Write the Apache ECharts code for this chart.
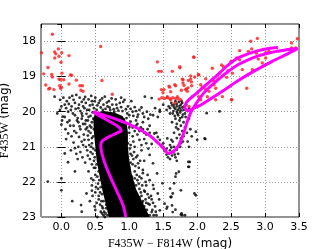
<!DOCTYPE html>
<html><head><meta charset="utf-8">
<script src="https://cdn.jsdelivr.net/npm/echarts@6/dist/echarts.min.js"></script>
<style>html,body{margin:0;padding:0;background:#fff}#c{width:332px;height:249px}</style>
</head><body><div id="c"></div>
<script>
// Axis ranges / ticks
const xRange = [-0.3, 3.5];
const yRange = [17.5, 23];
const xTickStep = 0.5;
const yTickStep = 1;

// Isochrone (F435W-F814W, F435W)
const isoColor = [0.95,0.91,0.85,0.79,0.72,0.66,0.62,0.59,0.58,0.60,0.66,0.75,0.82,0.88,0.86,0.75,0.62,0.52,0.47,
  0.55,0.70,0.86,1.00,1.15,1.30,1.42,1.52,1.57,1.62,1.68,1.73,1.78,1.82,1.86,1.90,1.95,2.03,2.11,2.30,2.45,2.60,2.75,2.90,3.09,3.30,3.48,
  3.30,3.10,2.85,2.60,2.40,2.20,2.06,1.95,1.86,1.82,1.84,1.90,2.00,2.11,2.30,2.45,2.60,2.75,2.90,3.05,3.19];
const isoMag = [23.0,22.67,22.4,22.15,21.85,21.57,21.35,21.12,20.95,20.84,20.76,20.67,20.6,20.55,20.46,20.32,20.18,20.07,20.0,
  20.05,20.14,20.25,20.36,20.5,20.68,20.88,21.08,21.18,21.17,21.08,20.95,20.73,20.5,20.25,20.05,19.87,19.64,19.44,19.1,18.86,18.66,18.52,18.41,18.31,18.24,18.2,
  18.38,18.57,18.83,19.12,19.38,19.63,19.8,19.9,19.97,19.88,19.74,19.62,19.46,19.27,18.95,18.68,18.47,18.35,18.26,18.2,18.17];

// Dense main-sequence band outline (colour, magnitude)
const bandColor = [0.62,0.50,0.47,0.48,0.50,0.52,0.56,0.60,0.65,0.70, 1.30,1.20,1.10,1.04,1.00,0.98,0.98,0.96,0.90,0.78];
const bandMag   = [19.98,20.02,20.2,20.6,21.0,21.4,21.8,22.2,22.6,23.0, 23.0,22.6,22.2,21.8,21.4,21.0,20.6,20.3,20.12,20.02];

// Selected (red) stars
const redStars = [
 [-0.132,17.79],[-0.294,18.32],[-0.098,18.30],[-0.083,18.35],[-0.044,18.21],[0.005,18.32],[-0.035,18.42],[-0.098,18.47],
 [0.112,18.40],[-0.005,18.59],[-0.197,18.74],[-0.26,18.92],[-0.142,18.94],[0.009,18.90],[0.133,18.95],[0.152,18.96],
 [-0.132,19.01],[-0.035,19.07],[-0.014,19.09],[0.034,19.09],[0.221,19.10],[0.112,19.21],[-0.025,19.26],[0.0,19.30],
 [-0.01,19.34],[-0.23,19.24],[-0.17,19.33],[-0.187,19.35],[-0.109,19.37],[0.274,19.26],[0.31,19.26],[0.289,19.39],
 [0.319,19.42],[0.579,18.14],[0.598,19.11],[0.75,19.50],
 [1.949,18.44],[1.414,18.58],[1.743,18.72],[1.433,18.85],[1.473,18.85],[1.635,18.85],[1.905,18.98],[2.023,18.95],
 [1.964,19.01],[1.791,19.09],[1.915,19.15],[1.67,19.23],[1.585,19.27],[1.806,19.25],[1.865,19.32],[1.841,19.35],
 [1.473,19.37],[1.511,19.37],[1.61,19.43],[1.768,19.39],[1.497,19.46],
 [2.789,17.99],[2.887,17.91],[3.476,17.92],[3.39,18.04],[2.626,18.26],[2.754,18.28],[2.803,18.21],[2.872,18.33],
 [3.01,18.32],[3.058,18.28],[3.39,18.18],[3.45,18.18],[3.01,18.47],[2.96,18.61],[2.9,18.5],[2.666,18.80],[2.813,18.80],
 [2.36,18.67],[2.498,18.56],[2.626,18.52],[2.582,18.47],[2.386,18.71],[2.224,18.76],[2.454,18.83],[2.519,18.90],
 [2.332,18.90],[2.435,19.02],[2.307,19.07],[2.239,19.11],[2.126,19.06],[2.73,19.33],[1.747,18.75],[1.953,18.45],
 [2.018,18.94],[1.905,19.07],[1.782,19.07],[1.791,19.18],[1.595,19.30],[1.684,19.26],[1.871,19.11],[1.919,19.26],
 [1.83,19.37],[1.856,19.42],[2.052,19.23],[2.077,19.30],[2.126,19.35],[1.999,19.47],[2.023,19.57],[1.93,19.57],
 [2.248,19.23],[2.273,19.33],[2.174,19.42],[2.052,19.66],[2.273,19.66],[2.15,19.57],[2.371,19.57],[2.509,19.66],
 [1.709,19.57],[1.61,19.66],[1.561,19.57],[1.673,19.75],[1.757,19.66],[1.88,19.85],[2.504,19.66],
 [1.48,19.6],[1.52,19.62],[1.56,19.6],[1.6,19.63],[1.64,19.6],[1.68,19.62],[1.72,19.63],[1.44,19.64]
];

// Other (black) stars
const blackStars = [
 [-0.1,19.57],[-0.02,19.66],[0.0,19.85],[0.02,20.14],[0.0,20.37],[0.05,19.8],[0.08,19.7],[0.12,19.6],[0.15,19.85],
 [0.18,19.66],[0.2,19.75],[0.22,19.52],[0.25,19.9],[0.27,19.6],[0.3,19.72],[0.32,19.85],[0.35,19.58],[0.38,19.95],
 [0.4,19.65],[0.42,19.82],[0.45,19.7],[0.48,19.9],[0.5,19.6],[0.55,19.75],[0.58,19.88],[0.6,19.62],[0.64,19.57],
 [0.65,19.92],[0.7,19.7],[0.72,19.95],[0.75,19.8],[0.8,19.65],[0.82,19.9],[0.86,19.75],[0.9,19.98],[0.93,19.66],
 [0.98,19.85],[1.0,20.1],[1.05,20.0],[1.08,19.87],[1.15,19.95],[1.2,20.05],[1.23,19.57],[1.33,19.61],[1.35,20.1],
 [1.45,19.95],[0.1,20.0],[0.3,20.05],[-0.02,19.95],[0.26,19.8],[0.36,19.75],[0.44,19.55],[0.62,19.8],[0.52,19.95],
 [0.78,20.0],[0.68,19.85],[1.12,20.15],[1.28,20.2],
 [0.05,20.15],[0.12,20.25],[0.2,20.1],[0.25,20.3],[0.3,20.2],[0.35,20.35],[0.4,20.15],[0.45,20.3],[0.18,20.4],
 [0.28,20.5],[0.38,20.45],[0.43,20.6],[0.33,20.65],[0.22,20.6],[0.15,20.7],[0.4,20.8],[0.45,20.9],[0.3,20.85],
 [0.25,21.0],[0.38,21.1],[0.46,21.2],[0.42,21.35],[0.35,21.45],[0.098,21.44],[0.05,21.19],[0.2,21.04],[0.2,21.7],
 [0.48,21.6],[0.5,21.8],[-0.2,21.99],[0.0,21.9],[0.0,22.24],[0.45,22.1],[0.5,22.3],[0.37,22.33],[0.55,22.5],
 [0.16,22.55],[0.29,22.66],[0.6,22.7],[0.5,22.8],[0.3,22.85],[0.65,22.9],[0.42,22.55],[0.48,20.5],[0.47,20.7],
 [0.44,21.0],[0.48,21.4],[0.36,20.25],[0.42,20.4],[0.32,20.95],[0.5,21.1],[0.52,21.5],[0.55,21.7],[0.56,21.95],
 [0.58,22.15],[0.6,22.35],[0.62,22.55],[0.66,22.75],[0.68,22.95],[0.54,22.2],[0.46,22.4],[0.58,22.85],[0.4,21.7],
 [0.44,21.9],[0.52,22.6],[0.7,22.85],[0.62,22.95],
 [0.03,19.6],[0.07,19.9],[0.11,19.78],[0.14,19.95],[0.17,20.05],[0.21,19.92],[0.24,20.18],[0.28,19.98],[0.31,20.12],
 [0.34,19.9],[0.37,20.06],[0.39,20.25],[0.41,19.95],[0.43,20.12],[0.46,20.02],[0.47,20.2],[0.44,20.45],[0.4,20.55],
 [0.36,20.5],[0.32,20.35],[0.27,20.42],[0.23,20.25],[0.19,20.55],[0.13,20.4],[0.09,20.3],[0.06,20.5],[0.1,20.62],
 [0.26,20.72],[0.34,20.8],[0.39,20.68],[0.45,20.75],[0.41,20.95],[0.36,21.0],[0.28,21.15],[0.43,21.15],[0.47,21.05],
 [0.39,21.25],[0.45,21.5],[0.31,21.3],[0.24,21.35],[0.14,21.1],[0.46,19.8],[0.49,19.7],[0.33,19.65],[0.16,19.55],
 [0.01,20.25],[-0.06,20.05],[0.07,20.78],[0.18,20.88],[0.22,21.2],
 [0.53,19.82],[0.57,19.68],[0.61,19.95],[0.67,19.74],[0.71,19.88],[0.74,19.62],[0.77,19.93],[0.81,19.8],[0.84,19.97],
 [0.88,19.87],[0.91,19.72],[0.95,19.93],[0.97,20.05],[1.02,19.92],[1.06,20.12],[1.1,19.98],[1.13,20.08],[1.18,19.88],
 [1.22,20.15],[1.26,20.0],[1.31,20.08],[1.38,19.9],[1.42,20.15],[1.03,19.7],[0.88,19.6],[0.96,20.18],[0.92,20.22],
 [1.0,20.35],[1.05,20.45],[1.1,20.4],[1.15,20.55],[1.2,20.5],[1.25,20.65],[1.3,20.6],[1.35,20.75],[1.4,20.85],
 [1.45,20.8],[1.1,20.25],[1.2,20.3],[1.3,20.4],[1.05,20.7],[1.15,20.8],[1.25,20.9],[1.4,20.6],[1.5,20.9],[1.0,20.6],
 [0.98,20.9],[1.08,21.0],[1.18,21.1],[1.28,21.05],[1.02,21.2],[1.1,21.3],[0.98,21.4],[1.3,21.23],[1.35,21.47],
 [1.02,20.28],[1.08,20.55],[1.12,20.35],[1.17,20.45],[1.22,20.6],[1.27,20.5],[1.32,20.7],[1.37,20.62],[1.42,20.72],
 [1.47,20.95],[1.06,20.85],[1.12,20.65],[1.18,20.95],[1.22,20.78],[1.33,20.92],[1.02,20.95],[1.0,20.45],
 [1.41,21.76],[1.49,22.04],[1.6,22.19],[1.64,22.33],[1.62,22.43],[1.52,22.62],[1.55,22.76],[1.77,22.9],[1.82,22.95],
 [1.96,22.33],[1.87,21.43],[1.87,21.57],[1.69,21.76],[1.42,22.33],[1.35,22.09],[1.15,21.85],[1.2,21.66],[1.13,21.47],
 [1.23,22.28],[1.28,22.62],[1.33,22.86],[1.45,22.81],[1.64,22.86],[1.56,20.76],[1.62,20.8],[1.76,20.76],[1.98,20.57],
 [2.0,20.8],[2.12,20.78],[1.88,21.0],[1.89,21.43],[1.88,21.57],[1.73,21.71],[1.68,21.85],[1.66,22.04],[1.76,22.24],
 [1.98,22.38],[1.61,22.43],[1.63,22.67],[1.68,22.79],[1.76,22.93],[1.78,22.95],[1.56,22.71],[2.14,20.04],[2.33,19.99],
 [2.11,20.76],
 [1.05,21.5],[1.08,21.7],[1.12,21.95],[1.1,22.1],[1.15,22.2],[1.18,22.4],[1.2,22.55],[1.22,22.7],[1.26,22.8],[1.3,22.95],
 [1.06,21.35],[1.0,21.6],[1.04,21.85],[1.08,22.35],[1.12,22.5],[1.16,22.65],[1.24,22.5],[1.18,21.9],[1.25,22.1],
 [1.14,21.6],[1.22,21.4],[1.27,21.8],[1.32,22.4],[1.38,22.7],[1.4,22.95],[1.3,21.95],[1.03,22.0],[0.99,21.75],
 [1.36,22.2],[1.44,22.5],
 [1.01,21.05],[1.04,21.25],[1.07,21.15],[1.02,21.45],[1.09,21.55],[1.12,21.25],[1.16,21.4],[1.11,21.8],[1.14,22.05],
 [1.19,22.1],[1.2,21.75],[1.24,22.0],[1.17,22.3],[1.22,22.25],[1.27,22.35],[1.25,22.6],[1.3,22.65],[1.29,22.45],
 [1.34,22.8],[1.35,22.6],[1.23,22.85],[1.27,22.95],[1.33,22.5],[1.06,22.05],[1.08,21.9],[1.15,22.45],[1.19,22.6],
 [1.21,22.9],[1.36,22.95],[1.39,22.85],
 [0.49,21.3],[0.5,21.6],[0.53,21.85],[0.54,22.05],[0.57,22.3],[0.59,22.55],[0.61,22.75],[0.63,22.85],[0.66,22.65],
 [0.55,22.4],[0.51,22.15],[0.47,21.95],[0.57,22.65],[0.6,22.9],[0.64,23.0],[0.49,22.7],[0.45,22.25],[0.53,23.0],
 [1.5,21.0],[1.55,21.05],[1.6,21.1],[1.65,21.15],[1.7,21.08],[1.58,21.2],[1.63,21.25],[1.68,21.3],[1.55,21.22],
 [1.72,21.2],[1.6,21.35],[1.52,21.12],[1.75,21.0],[1.66,21.0],[1.7,21.4],[1.62,21.02],[1.57,21.3],[1.67,21.22],
 [1.62,19.75],[1.66,19.8],[1.7,19.85],[1.74,19.9],[1.78,19.88],[1.72,19.95],[1.68,19.92],[1.76,19.8],[1.8,19.95],
 [1.65,19.98],[1.7,20.0],[1.75,20.02],[1.82,20.05],[1.6,19.9],[1.58,19.85],[1.55,19.95],[1.64,20.05],[1.72,20.1],
 [1.78,20.15],[1.68,20.2],[1.74,20.25],[1.8,20.3],[1.7,20.35],[1.76,20.4],[1.82,20.45],[1.72,20.5],[1.78,20.55],
 [1.66,20.6],[1.74,20.65],[1.8,20.7],[1.7,20.75],[1.64,20.85],[1.76,20.9],[1.6,20.95],[1.88,20.2],[1.9,20.5],
 [1.92,20.7],[1.86,20.85],[1.84,19.8],[1.68,19.7],[1.73,19.72],[1.78,19.75],[1.5,19.8],[1.45,20.0],[1.88,19.9],
 [1.7,19.78],[1.74,19.84],[1.66,19.88],[1.76,19.96],[1.71,20.05],[1.79,20.08],[1.67,20.12],[1.75,20.18],
 [1.83,20.15],[1.85,20.6],[1.79,20.85],[1.69,20.45],[1.63,20.3],[1.86,19.98],[1.81,19.85],[1.77,19.7],[1.63,19.82],[1.6,20.05]
];

const chart = echarts.init(document.getElementById('c'), null, {renderer:'canvas'});
const serif = '"Liberation Serif","DejaVu Serif",serif';
const sans = '"DejaVu Sans",sans-serif';
const isoData = isoColor.map((c,i)=>[c, isoMag[i]]);
const bandPts = bandColor.map((c,i)=>[c, bandMag[i]]);
const grid = {left:41, right:33, top:24, bottom:32, show:true, borderColor:'#222', borderWidth:1,
  backgroundColor:'#fff', outerBoundsMode:'none', containLabel:false};
const xBase = {type:'value', min:xRange[0], max:xRange[1], splitNumber:8, minInterval:xTickStep, maxInterval:xTickStep};
const yBase = {type:'value', min:yRange[0], max:yRange[1], inverse:true, splitNumber:5, minInterval:yTickStep, maxInterval:yTickStep};
chart.setOption({
  animation:false,
  grid: grid,
  xAxis: [
    Object.assign({}, xBase, {
      position:'bottom',
      axisLine:{show:false},
      axisTick:{show:true, inside:true, length:4, lineStyle:{color:'#000'}},
      axisLabel:{showMinLabel:false, color:'#000', fontFamily:sans, fontSize:11, margin:5,
        formatter:v=>v.toFixed(1)},
      splitLine:{show:true, lineStyle:{color:'#9a9a9a', type:[1,2], width:1}},
      name:'{s|F435W − F814W} {n|(mag)}', nameLocation:'middle', nameGap:19,
      nameTextStyle:{rich:{s:{fontFamily:serif, fontSize:12, color:'#000'}, n:{fontFamily:sans, fontSize:12, color:'#000'}}}
    }),
    Object.assign({}, xBase, {
      position:'top', axisLine:{show:false},
      axisTick:{show:true, inside:true, length:4, lineStyle:{color:'#000'}},
      axisLabel:{show:false}, splitLine:{show:false}
    })
  ],
  yAxis: [
    Object.assign({}, yBase, {
      position:'left', axisLine:{show:false},
      axisTick:{show:true, inside:true, length:4, lineStyle:{color:'#000'}},
      axisLabel:{showMinLabel:false, color:'#000', fontFamily:sans, fontSize:11, margin:5},
      splitLine:{show:true, lineStyle:{color:'#9a9a9a', type:[1,2], width:1}},
      name:'{s|F435W} {n|(mag)}', nameLocation:'middle', nameGap:24, nameRotate:90,
      nameTextStyle:{rich:{s:{fontFamily:serif, fontSize:12, color:'#000'}, n:{fontFamily:sans, fontSize:12, color:'#000'}}}
    }),
    Object.assign({}, yBase, {
      position:'right', axisLine:{show:false},
      axisTick:{show:true, inside:true, length:4, lineStyle:{color:'#000'}},
      axisLabel:{show:false}, splitLine:{show:false}
    })
  ],
  series: [
    {
      type:'custom', xAxisIndex:0, yAxisIndex:0, data:[0], silent:true, z:2,
      renderItem:(params, api)=>({type:'polygon', shape:{points: bandPts.map(p=>api.coord(p))}, style:{fill:'#000'}})
    },
    {type:'scatter', xAxisIndex:0, yAxisIndex:0, data:blackStars, symbol:'circle', symbolSize:2.8,
     itemStyle:{color:'#000'}, silent:true, z:3},
    {type:'scatter', xAxisIndex:0, yAxisIndex:0, data:redStars, symbol:'circle', symbolSize:3.4,
     itemStyle:{color:'#ff1a1a'}, silent:true, z:4},
    {type:'line', xAxisIndex:0, yAxisIndex:0, data:isoData, showSymbol:false, symbol:'none', smooth:0.3,
     lineStyle:{color:'#ff00ff', width:3}, silent:true, z:5}
  ]
});
</script></body></html>
